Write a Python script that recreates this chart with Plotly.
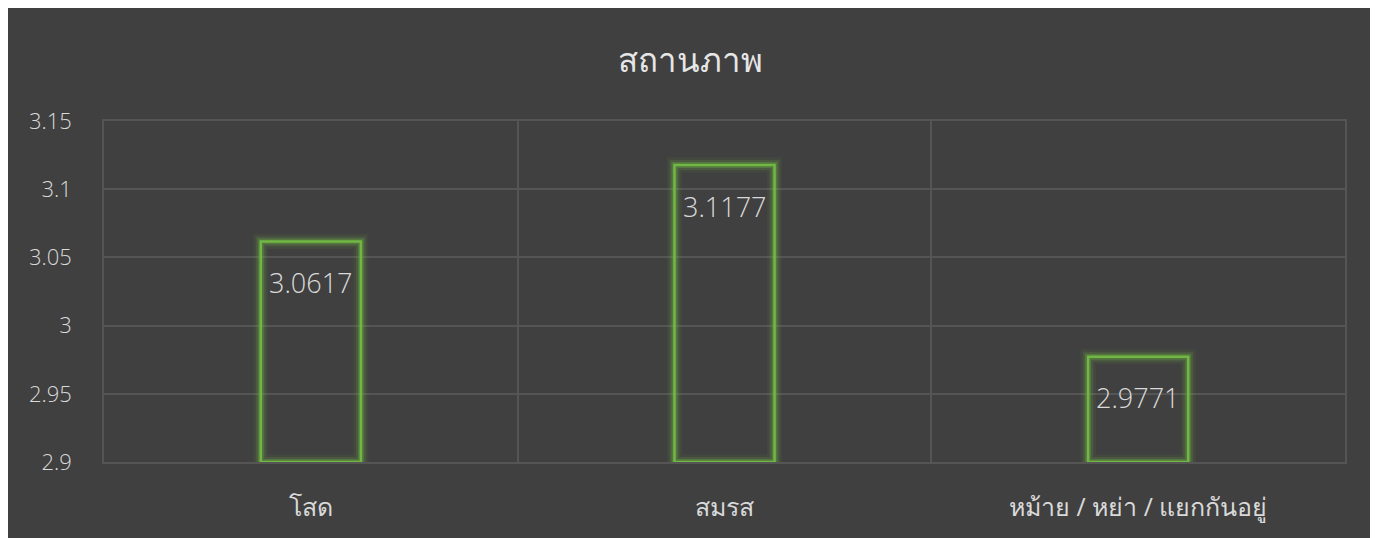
import plotly.graph_objects as go

categories = ['โสด', 'สมรส', 'หม้าย / หย่า / แยกกันอยู่']
values = [3.0617, 3.1177, 2.9771]
axis_min = 2.9
axis_max = 3.15
title_text = 'สถานภาพ'

BG = '#404040'
GRID = '#555555'
TEXT = '#d9d9d9'
GREEN = '#70B843'
FONT = 'Open Sans, Noto Sans, Tahoma, sans-serif'

heights = [v - axis_min for v in values]

fig = go.Figure()
# soft glow layers, then the crisp outline on top
for width, color in [(15, 'rgba(112,184,67,0.08)'),
                     (10, 'rgba(112,184,67,0.15)'),
                     (6, 'rgba(112,184,67,0.30)'),
                     (2.5, GREEN)]:
    fig.add_trace(go.Bar(
        x=categories,
        y=heights,
        base=axis_min,
        width=0.242,
        marker=dict(color='rgba(0,0,0,0)', line=dict(color=color, width=width)),
        hoverinfo='skip',
        showlegend=False,
    ))

for cat, v in zip(categories, values):
    fig.add_annotation(
        x=cat, y=v, yshift=-41, text=f'{v:.4f}', showarrow=False,
        yanchor='middle', font=dict(size=27, color=TEXT, family=FONT, weight=300),
    )

fig.update_layout(
    width=1365,
    height=530,
    barmode='overlay',
    paper_bgcolor=BG,
    plot_bgcolor=BG,
    margin=dict(l=96, r=28, t=113, b=76),
    font=dict(family=FONT, color=TEXT),
    title=dict(text=title_text, x=0.5, xanchor='center', y=1 - 52 / 530,
               yanchor='middle', font=dict(size=33, color='#e6e6e6', family=FONT)),
)
fig.update_xaxes(
    type='category',
    tickson='boundaries',
    showgrid=True,
    gridcolor=GRID,
    gridwidth=1.5,
    ticks='',
    showline=True,
    mirror=True,
    linecolor=GRID,
    linewidth=1.5,
    zeroline=False,
    automargin=False,
    tickfont=dict(size=25, color=TEXT, family=FONT),
    ticklabelstandoff=22,
)
fig.update_yaxes(
    range=[axis_min, axis_max],
    dtick=0.05,
    showgrid=True,
    gridcolor=GRID,
    gridwidth=1.5,
    zeroline=False,
    showline=True,
    mirror=True,
    linecolor=GRID,
    linewidth=1.5,
    automargin=False,
    tickfont=dict(size=22, color=TEXT, family=FONT, weight=300),
    ticklabelstandoff=26,
)

fig.write_html('out.html')
